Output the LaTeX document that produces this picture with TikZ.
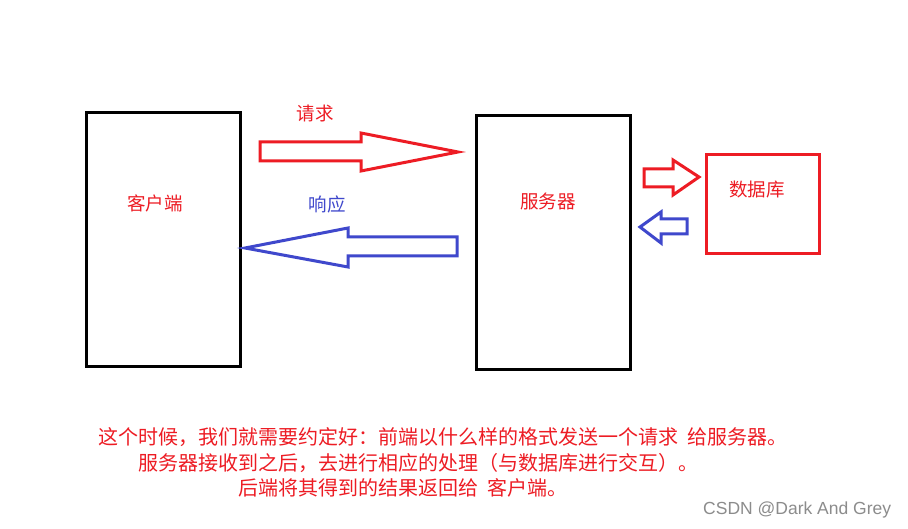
\documentclass[tikz,border=0pt]{standalone}
\usepackage{fontspec}
\newfontfamily\cjk{Noto Sans CJK SC}
\newfontfamily\wm{Liberation Sans}
\definecolor{pred}{RGB}{237,28,36}
\definecolor{pblue}{RGB}{63,72,204}
\begin{document}
\begin{tikzpicture}[x=1pt,y=-1pt,
  box/.style={draw=black,line width=3pt},
  dbbox/.style={draw=pred,line width=3pt},
  lbl/.style={font=\cjk\fontsize{18.5}{21}\selectfont,inner sep=0pt},
  redarrow/.style={draw=pred,line width=3pt,line join=miter},
  bluearrow/.style={draw=pblue,line width=3pt,line join=miter},
  para/.style={font=\cjk\fontsize{20}{23}\selectfont,text=pred,anchor=west,inner sep=0pt}]
\useasboundingbox[fill=white] (0,0) rectangle (908,529);
% boxes
\draw[box] (86,113) rectangle (240,367);
\node[coordinate] (client) at (163,240) {};
\draw[box] (476,116) rectangle (630,370);
\node[coordinate] (server) at (553,243) {};
\draw[dbbox] (706,155) rectangle (819,254);
\node[coordinate] (db) at (762,204) {};
% labels
\node[lbl,text=pred] (lclient) at (155,203) {客户端};
\node[lbl,text=pred] (lserver) at (548,201) {服务器};
\node[lbl,text=pred] (ldb) at (757,190) {数据库};
\node[lbl,text=pred] (lreq) at (315,113) {请求};
\node[lbl,text=pblue] (lresp) at (327,204) {响应};
% big request arrow
\draw[redarrow] (260,142) -- (361,142) -- (361,133) -- (458,152) -- (361,171) -- (361,161) -- (260,161) -- cycle;
% big response arrow
\draw[bluearrow] (457,237) -- (348,237) -- (348,228) -- (245,248) -- (348,267) -- (348,256) -- (457,256) -- cycle;
% small arrows to/from db
\draw[redarrow] (644,169) -- (673,169) -- (673,160) -- (699,177) -- (673,195) -- (673,187) -- (644,187) -- cycle;
\draw[bluearrow] (687,219) -- (661,219) -- (661,212) -- (640,227) -- (661,243) -- (661,234) -- (687,234) -- cycle;
% paragraph
\node[para] (p1) at (98,437) {这个时候，我们就需要约定好：前端以什么样的格式发送一个请求\ \ 给服务器。};
\node[para] (p2) at (138,463) {服务器接收到之后，去进行相应的处理（与数据库进行交互）。};
\node[para] (p3) at (238,488) {后端将其得到的结果返回给\ \ 客户端。};
% watermark
\node[font=\wm\fontsize{17.5}{20}\selectfont,text=black!45,anchor=west,inner sep=0pt] (wmk) at (703,510) {CSDN @Dark And Grey};
\end{tikzpicture}
\end{document}
